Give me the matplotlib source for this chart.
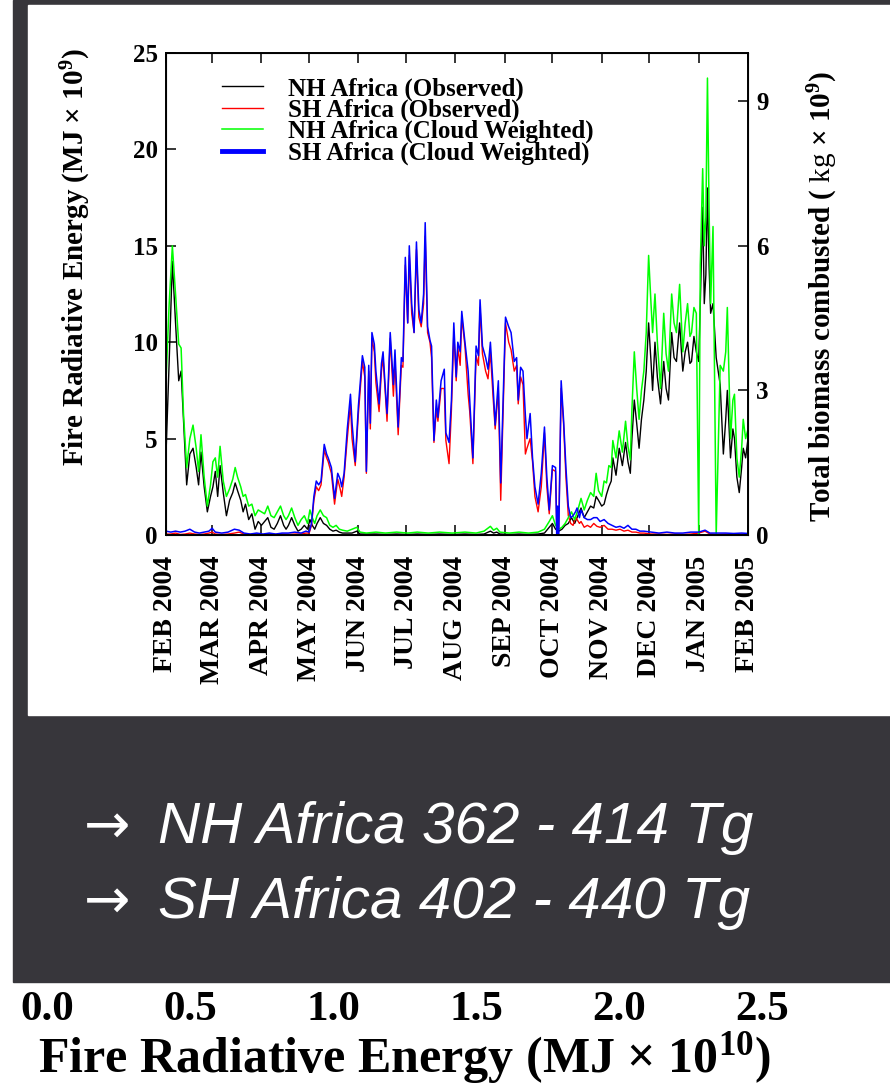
import matplotlib
matplotlib.use("Agg")
import matplotlib.pyplot as plt
from matplotlib.patches import Rectangle

# ---- data (days since 1 Feb 2004) ----
nh_day = [0, 2, 4, 6, 8, 9.5, 11, 13, 15, 17, 19, 20.5, 22, 24, 26, 28, 29.5, 31, 32.5, 34,
          36, 38, 40, 42, 43.5, 45, 47, 48.5, 50, 52, 54, 56, 58, 60, 62, 64, 66, 68, 70, 72,
          74, 75.5, 77, 79, 81, 83, 85, 87, 89, 90.5, 92, 93.5, 95, 97, 99, 101, 103, 105, 107, 109,
          111, 114, 117, 120, 122, 126, 132, 138, 145, 152, 158, 165, 172, 180, 188, 195, 200, 204, 206, 208,
          210, 216, 222, 228, 234, 238, 241, 243, 245, 247, 249, 251, 253, 255, 257, 259, 261, 263, 265, 267,
          269, 270.5, 272, 274, 275.5, 277, 278.5, 280, 281, 283, 285, 287, 289, 290.5, 292, 293, 294.5, 296, 297.5, 299,
          300.5, 302, 303.5, 305, 306, 307.5, 309, 311, 313, 314.5, 316, 318, 319.5, 321, 323, 324, 325, 326.5, 328, 329.5,
          330.5, 332, 333.5, 335, 336, 337.5, 338.5, 339.5, 340.5, 341.5, 342.5, 344, 346, 348.5, 350.5, 352, 353, 355, 356.5, 357.5,
          359, 360.5, 362, 363, 364.5, 366]
nh_obs = [4.2, 9.0, 14.2, 11.0, 8.0, 8.5, 6.0, 2.6, 4.2, 4.5, 3.5, 2.6, 4.3, 2.5, 1.2, 2.0, 2.5, 3.3, 2.0, 3.6,
          2.2, 1.0, 1.8, 2.2, 2.7, 2.3, 1.8, 1.2, 1.6, 0.8, 1.1, 0.3, 0.7, 0.5, 0.7, 0.9, 0.4, 0.3, 0.6, 1.0,
          0.5, 0.3, 0.5, 0.9, 0.5, 0.2, 0.3, 0.5, 0.3, 0.8, 0.5, 0.3, 0.6, 0.9, 0.6, 0.5, 0.3, 0.2, 0.25, 0.15,
          0.1, 0.1, 0.1, 0.2, 0.05, 0.05, 0.05, 0.03, 0.05, 0.03, 0.05, 0.03, 0.05, 0.03, 0.05, 0.03, 0.05, 0.2, 0.1, 0.15,
          0.05, 0.03, 0.05, 0.03, 0.05, 0.1, 0.4, 0.6, 0.3, 0.2, 0.3, 0.5, 0.6, 0.9, 0.6, 1.0, 1.4, 0.9, 1.2, 1.5,
          1.4, 2.0, 1.8, 1.5, 1.6, 2.1, 2.5, 2.8, 4.0, 3.1, 4.5, 3.6, 4.8, 3.8, 3.2, 5.0, 7.0, 5.8, 4.5, 6.0,
          7.0, 8.5, 11.0, 9.0, 7.5, 10.0, 8.2, 6.8, 9.0, 7.6, 7.0, 10.5, 9.2, 9.0, 11.0, 9.7, 8.5, 9.5, 10.0, 8.9,
          9.0, 10.3, 9.5, 9.0, 12.0, 17.0, 12.0, 13.5, 18.0, 14.0, 11.5, 12.0, 9.2, 7.8, 4.2, 6.0, 7.5, 4.0, 5.5, 5.0,
          3.0, 2.2, 3.5, 4.5, 4.0, 5.0]
nh_cld = [8.0, 12.0, 15.0, 12.5, 9.9, 9.7, 6.3, 3.5, 5.0, 5.7, 4.5, 3.3, 5.2, 3.0, 1.5, 2.6, 3.8, 4.0, 3.0, 4.6,
          2.8, 2.0, 2.4, 2.9, 3.5, 3.0, 2.5, 2.0, 2.1, 1.5, 1.6, 1.0, 1.3, 1.2, 1.1, 1.5, 1.0, 0.9, 1.2, 1.5,
          1.0, 0.8, 1.0, 1.4, 0.9, 0.5, 0.8, 1.0, 0.6, 1.3, 0.9, 0.6, 1.0, 1.3, 1.0, 0.9, 0.5, 0.4, 0.5, 0.3,
          0.25, 0.2, 0.3, 0.4, 0.15, 0.1, 0.15, 0.1, 0.15, 0.1, 0.15, 0.1, 0.15, 0.1, 0.15, 0.1, 0.2, 0.45, 0.25, 0.35,
          0.15, 0.1, 0.15, 0.1, 0.15, 0.3, 0.7, 1.0, 0.5, 0.3, 0.4, 0.6, 0.9, 1.2, 0.8, 1.3, 1.9, 1.3, 1.8, 2.2,
          2.0, 3.2, 2.3, 2.0, 2.8, 2.7, 3.6, 3.5, 4.9, 4.0, 5.4, 4.3, 5.9, 4.6, 3.9, 6.5, 9.5, 7.6, 6.0, 7.5,
          8.5, 10.5, 14.5, 12.0, 10.5, 12.5, 10.0, 7.6, 11.5, 9.4, 8.5, 12.5, 11.0, 10.5, 13.0, 11.2, 9.5, 11.0, 12.0, 10.3,
          10.5, 11.8, 11.5, 0.0, 14.0, 19.0, 15.0, 16.5, 23.7, 17.0, 12.0, 16.0, 0.0, 8.8, 8.5, 9.5, 11.8, 5.0, 7.0, 7.3,
          4.0, 3.0, 4.5, 6.0, 5.0, 5.5]

sh_day = [0, 3, 6, 9, 12, 15, 18, 21, 24, 27, 29, 31, 35, 39, 43, 46, 49, 53, 57, 61,
          65, 69, 73, 77, 81, 85, 88, 90, 91.5, 93, 94.5, 96, 97.5, 99.5, 101, 102, 104, 106, 108, 109.5,
          110.5, 112, 114, 116, 117, 119, 121, 123.5, 125, 126, 127.5, 128.5, 129.5, 131, 132, 134, 135.5, 136.5, 138, 139,
          141, 143, 144, 146, 148, 149, 150.5, 152, 153, 154.5, 156, 157.5, 159, 160.5, 162, 163, 164.5, 166, 167, 168.5,
          170, 171, 173, 175, 176, 178, 179.5, 181, 182.5, 183.5, 185, 186, 188, 190, 191, 193, 195, 196.5, 197.5, 199,
          201, 202.5, 204, 205.5, 207, 209, 210.5, 212, 213.5, 215.5, 217, 219, 220.5, 221.5, 223, 224.5, 226, 227, 229, 230.5,
          232, 234, 236, 238, 239.5, 241, 243, 245, 245.7, 246.3, 247, 248.5, 250, 251.5, 253, 254.5, 256, 257.5, 258.5, 260,
          261, 263, 265, 267, 269, 271, 273, 275.5, 278, 280.5, 283, 285.5, 288, 290.5, 293, 295.5, 298, 300.5, 305, 310,
          315, 320, 325, 330, 335, 339, 342, 347, 352, 357, 362, 366]
sh_obs = [0.05, 0.05, 0.1, 0.03, 0.05, 0.1, 0.05, 0.03, 0.05, 0.1, 0.15, 0.05, 0.03, 0.05, 0.1, 0.15, 0.05, 0.03, 0.05, 0.02,
          0.05, 0.03, 0.05, 0.03, 0.05, 0.05, 0.1, 0.1, 0.5, 1.8, 2.5, 2.3, 2.6, 4.4, 4.0, 3.8, 3.2, 1.6, 2.9, 2.4,
          2.0, 3.0, 5.0, 6.8, 5.0, 3.6, 6.3, 9.0, 8.2, 3.2, 8.5, 5.5, 10.2, 9.5, 7.9, 6.4, 8.5, 9.2, 7.2, 5.9,
          10.2, 7.2, 9.0, 5.2, 8.8, 8.7, 14.0, 11.0, 14.5, 11.5, 10.5, 14.8, 11.3, 10.8, 12.0, 15.5, 10.5, 10.0, 9.2, 4.8,
          6.5, 5.9, 7.6, 7.6, 4.9, 3.7, 6.5, 10.5, 8.0, 9.7, 8.8, 11.3, 9.8, 7.3, 6.4, 3.7, 9.3, 8.8, 11.8, 9.4,
          8.5, 8.1, 9.5, 7.4, 5.5, 7.5, 1.8, 6.5, 11.0, 10.0, 9.6, 8.5, 8.8, 6.8, 8.2, 7.8, 4.2, 4.5, 5.0, 3.8,
          2.0, 1.2, 2.5, 5.3, 2.5, 1.1, 3.4, 3.3, 0.4, 0.5, 0.3, 7.6, 5.8, 3.0, 1.0, 0.6, 0.5, 0.9, 0.8, 0.6,
          0.7, 0.4, 0.5, 0.4, 0.6, 0.45, 0.4, 0.5, 0.3, 0.3, 0.25, 0.3, 0.2, 0.25, 0.15, 0.15, 0.1, 0.1, 0.05, 0.05,
          0.03, 0.05, 0.03, 0.05, 0.1, 0.2, 0.05, 0.03, 0.05, 0.03, 0.05, 0.03]
sh_cld = [0.2, 0.15, 0.2, 0.15, 0.2, 0.3, 0.15, 0.1, 0.15, 0.2, 0.35, 0.15, 0.1, 0.15, 0.3, 0.25, 0.1, 0.05, 0.1, 0.05,
          0.1, 0.05, 0.1, 0.1, 0.15, 0.1, 0.2, 0.15, 0.6, 2.0, 2.8, 2.6, 2.8, 4.7, 4.2, 4.0, 3.5, 1.9, 3.2, 2.9,
          2.5, 3.2, 5.5, 7.3, 5.8, 3.8, 6.7, 9.3, 8.7, 3.3, 8.8, 5.8, 10.5, 9.9, 8.5, 6.8, 8.9, 9.5, 7.5, 6.3,
          10.5, 7.8, 9.6, 5.6, 9.2, 9.0, 14.4, 11.0, 15.0, 12.0, 10.5, 15.2, 11.7, 11.0, 12.5, 16.2, 10.8, 10.1, 9.8, 4.9,
          7.0, 6.1, 8.0, 8.6, 5.3, 4.8, 7.0, 11.0, 8.2, 10.0, 9.5, 11.6, 10.0, 8.5, 7.0, 4.0, 9.8, 9.3, 12.2, 9.8,
          9.2, 8.6, 10.0, 8.0, 5.7, 8.0, 2.7, 7.0, 11.3, 10.8, 10.5, 9.0, 9.2, 7.0, 8.7, 8.5, 6.2, 5.0, 6.3, 4.0,
          2.5, 1.6, 3.2, 5.6, 3.0, 1.3, 3.6, 3.5, 0.0, 1.5, 0.0, 8.0, 6.0, 3.5, 1.5, 0.9, 1.0, 1.2, 1.4, 0.9,
          1.3, 0.9, 0.8, 0.8, 0.9, 0.9, 0.7, 0.8, 0.6, 0.5, 0.4, 0.45, 0.35, 0.5, 0.3, 0.3, 0.2, 0.2, 0.15, 0.1,
          0.15, 0.1, 0.1, 0.15, 0.15, 0.25, 0.1, 0.1, 0.1, 0.08, 0.1, 0.08]

month_days = [0, 29, 60, 90, 121, 151, 182, 213, 243, 274, 304, 335, 366]
month_labels = ["FEB 2004", "MAR 2004", "APR 2004", "MAY 2004", "JUN 2004", "JUL 2004",
                "AUG 2004", "SEP 2004", "OCT 2004", "NOV 2004", "DEC 2004", "JAN 2005", "FEB 2005"]
fre_ticks = [0, 5, 10, 15, 20, 25]
bio_ticks = [0, 3, 6, 9]
total_ticks = [0.0, 0.5, 1.0, 1.5, 2.0, 2.5]

plt.rcParams.update({
    "font.family": "Liberation Serif", "font.weight": "bold",
    "axes.labelweight": "bold",
    "mathtext.fontset": "custom", "mathtext.rm": "Liberation Serif:bold",
    "mathtext.bf": "Liberation Serif:bold",
    "mathtext.it": "Liberation Serif:weight=normal",
})

W, H = 890, 1089
fig = plt.figure(figsize=(W / 100, H / 100), dpi=100)

# slide background: dark block, white chart panel
fig.add_artist(Rectangle((13 / W, 1 - 982 / H), 877 / W, 982 / H, transform=fig.transFigure,
                         color="#37363b", zorder=-2))
fig.add_artist(Rectangle((28 / W, 1 - 715 / H), 862 / W, 710 / H, transform=fig.transFigure,
                         color="white", zorder=-1))

ax = fig.add_axes([166 / W, 1 - 535 / H, 582 / W, 482 / H])
ax.plot(nh_day, nh_obs, color="black", lw=1.0, label="NH Africa (Observed)")
ax.plot(sh_day, sh_obs, color="#ff0000", lw=1.0, label="SH Africa (Observed)")
ax.plot(nh_day, nh_cld, color="#00ff00", lw=1.1, label="NH Africa (Cloud Weighted)")
ax.plot(sh_day, sh_cld, color="#0000ff", lw=1.1, label="SH Africa (Cloud Weighted)")
ax.set_xlim(0, 366)
ax.set_ylim(0, 25)
ax.set_yticks(fre_ticks)
ax.set_xticks(month_days)
ax.set_xticklabels(month_labels, rotation=90)
ax.tick_params(axis="x", direction="in", top=True, length=7, width=1.1, labelsize=20, pad=15)
ax.tick_params(axis="y", direction="in", right=False, length=7, width=1.1, labelsize=18, pad=6)
for s in ax.spines.values():
    s.set_linewidth(1.4)
ax.set_ylabel("Fire Radiative Energy (MJ × 10$^{9}$)", fontsize=21)
ax.yaxis.set_label_coords(-0.125, 0.577)

ax2 = ax.twinx()
ax2.set_ylim(0, 10)
ax2.set_yticks(bio_ticks)
ax2.tick_params(axis="y", direction="in", length=7, width=1.1, labelsize=18, pad=6)
ax2.set_ylabel("Total biomass combusted ( $\\mathit{kg}$ × 10$^{9}$)", fontsize=21)
ax2.yaxis.set_label_coords(1.10, 0.494)

leg = ax.legend(loc="upper left", bbox_to_anchor=(0.096, 0.95), frameon=False, fontsize=18,
                handlelength=1.64, handletextpad=1.0, labelspacing=-0.08, borderpad=0,
                borderaxespad=0)
leg.get_lines()[3].set_linewidth(3.5)

# bottom strip: tick labels of the figure underneath
ax3 = fig.add_axes([47 / W, 1 - 984 / H, 715 / W, 2 / H])
ax3.set_xlim(0, 2.5)
ax3.set_xticks(total_ticks)
ax3.set_xticklabels([f"{t:.1f}" for t in total_ticks])
ax3.set_yticks([])
ax3.set_frame_on(False)
ax3.patch.set_alpha(0)
ax3.tick_params(axis="x", length=0, labelsize=31, pad=5)
ax3.set_xlabel("Fire Radiative Energy (MJ × 10$^{10}$)", fontsize=36, labelpad=1)

# slide text
for yb, txt in [(843, "NH Africa 362 - 414 Tg"), (918, "SH Africa 402 - 440 Tg")]:
    fig.text(84 / W, 1 - yb / H, "→", color="white", family="DejaVu Sans",
             weight="normal", fontsize=40, va="baseline")
    fig.text(158 / W, 1 - yb / H, txt, color="white", family="Liberation Sans",
             style="italic", weight="normal", fontsize=42, va="baseline")

fig.savefig("out.png", dpi=100)
